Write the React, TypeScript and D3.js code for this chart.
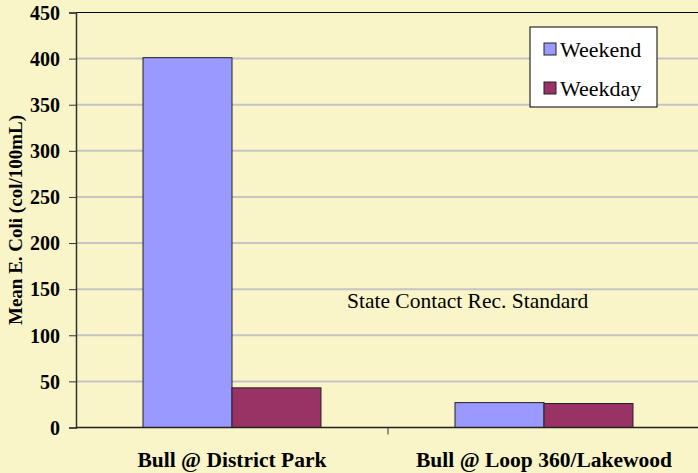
import React, { useEffect, useRef } from 'react';
import * as d3 from 'd3';

const sites = ['Bull @ District Park', 'Bull @ Loop 360/Lakewood'];
const series = ['Weekend', 'Weekday'];
const weekendValues = [401, 27];
const weekdayValues = [43, 26];
const yTicks = [0, 50, 100, 150, 200, 250, 300, 350, 400, 450];
const colors = ['#9999FF', '#993366'];

const App = () => {
  const ref = useRef<SVGSVGElement>(null);

  useEffect(() => {
    const width = 698,
      height = 473;
    const left = 76,
      right = 700,
      top = 12.5,
      bottom = 427.5;
    const font = '"Liberation Serif", "Times New Roman", serif';
    const svg = d3.select(ref.current).attr('width', width).attr('height', height);
    svg.selectAll('*').remove();

    svg.append('rect').attr('width', width).attr('height', height).attr('fill', '#F9F5C8');

    const y = d3.scaleLinear().domain([0, 450]).range([bottom, top]);
    const x0 = d3.scaleBand().domain(sites).range([left, right]).padding(0);
    const x1 = d3.scaleBand().domain(series).range([0, x0.bandwidth()]).paddingInner(0).paddingOuter(0.753);

    // gridlines
    svg.append('g')
      .selectAll('line')
      .data(yTicks.filter(t => t > 0 && t < 450))
      .join('line')
      .attr('x1', left)
      .attr('x2', width)
      .attr('y1', d => y(d))
      .attr('y2', d => y(d))
      .attr('stroke', '#C4C4C4')
      .attr('stroke-width', 2);

    // top border
    svg.append('line').attr('x1', left).attr('x2', width).attr('y1', y(450)).attr('y2', y(450)).attr('stroke', '#000').attr('stroke-width', 1.2);

    // bars
    const rows = sites.map((s, i) => ({ site: s, vals: [weekendValues[i], weekdayValues[i]] }));
    const groups = svg.append('g').selectAll('g').data(rows).join('g').attr('transform', d => `translate(${x0(d.site)},0)`);
    groups
      .selectAll('rect')
      .data(d => d.vals.map((v, j) => ({ key: series[j], v, c: colors[j] })))
      .join('rect')
      .attr('x', d => x1(d.key)!)
      .attr('width', x1.bandwidth())
      .attr('y', d => y(d.v))
      .attr('height', d => y(0) - y(d.v))
      .attr('fill', d => d.c)
      .attr('stroke', '#222')
      .attr('stroke-width', 1);

    // y axis
    const yAxis = svg.append('g').attr('transform', `translate(${left},0)`).call(d3.axisLeft(y).tickValues(yTicks).tickSize(7).tickPadding(9));
    yAxis.select('.domain').attr('stroke', '#333').attr('stroke-width', 1.5);
    yAxis.selectAll('.tick line').attr('stroke', '#333');
    yAxis.selectAll('.tick text')
      .attr('font-family', font)
      .attr('font-weight', 'bold')
      .attr('font-size', 20)
      .attr('fill', '#000')
      .attr('dy', '0.34em');

    // x axis
    svg.append('line').attr('x1', left).attr('x2', width).attr('y1', bottom).attr('y2', bottom).attr('stroke', '#222').attr('stroke-width', 1.5);
    svg.append('line').attr('x1', x0(sites[1])!).attr('x2', x0(sites[1])!).attr('y1', bottom).attr('y2', bottom + 7).attr('stroke', '#333');
    svg.append('g')
      .selectAll('text')
      .data(sites)
      .join('text')
      .attr('x', d => x0(d)! + x0.bandwidth() / 2)
      .attr('y', 467)
      .attr('text-anchor', 'middle')
      .attr('font-family', font)
      .attr('font-weight', 'bold')
      .attr('font-size', 21.5)
      .text(d => d);

    // y title
    svg.append('text')
      .attr('transform', `translate(22,${(top + bottom) / 2}) rotate(-90)`)
      .attr('text-anchor', 'middle')
      .attr('font-family', font)
      .attr('font-weight', 'bold')
      .attr('font-size', 19)
      .text('Mean E. Coli (col/100mL)');

    // annotation
    svg.append('text')
      .attr('x', 347)
      .attr('y', 308)
      .attr('font-family', font)
      .attr('font-size', 21.5)
      .text('State Contact Rec. Standard');

    // legend
    const lg = svg.append('g').attr('transform', 'translate(530,27)');
    lg.append('rect').attr('width', 127).attr('height', 80).attr('fill', '#fff').attr('stroke', '#000').attr('stroke-width', 1);
    const items = lg.selectAll('g').data(series).join('g').attr('transform', (d, i) => `translate(0,${16 + i * 39})`);
    items.append('rect').attr('x', 14).attr('width', 12).attr('height', 12).attr('fill', (d, i) => colors[i]).attr('stroke', '#222');
    items.append('text')
      .attr('x', 30)
      .attr('y', 14)
      .attr('font-family', font)
      .attr('font-size', 22)
      .text(d => d);
  }, []);

  return <svg ref={ref} style={{ position: 'absolute', left: 0, top: 0, display: 'block' }} />;
};

export default App;
